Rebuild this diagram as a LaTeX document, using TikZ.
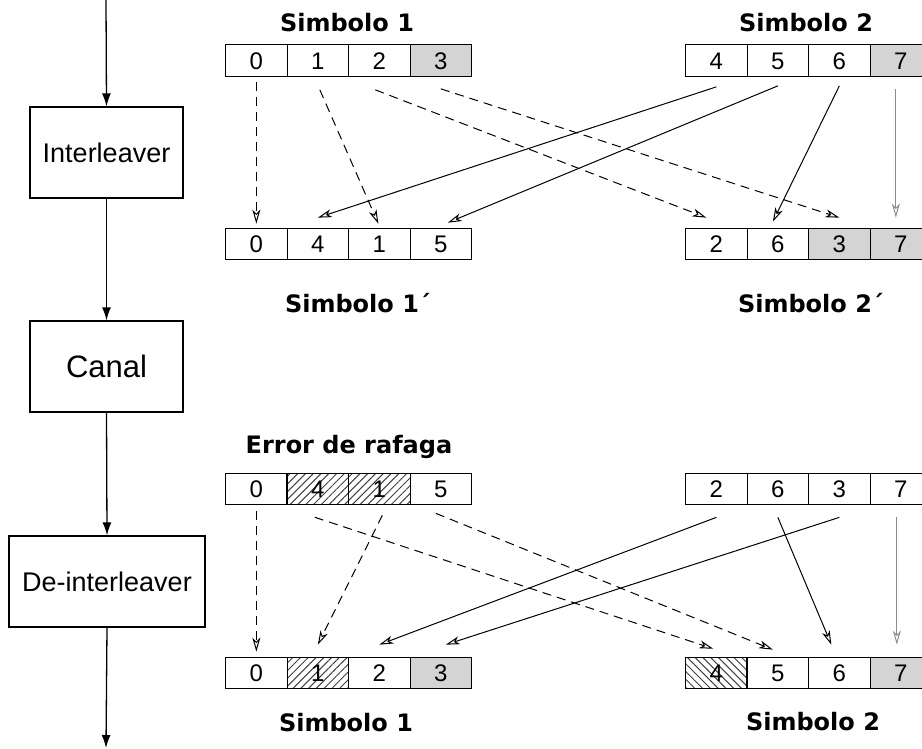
\documentclass[tikz,border=0pt]{standalone}
\usepackage{fontspec}
\setmainfont{Liberation Sans}
\newfontfamily\titlefont{DejaVu Sans}
\usetikzlibrary{arrows.meta,patterns.meta,calc}

\tikzset{
  blockbox/.style={draw, line width=1.3pt, inner sep=0pt, font=\fontsize{27}{30}\selectfont},
  flow/.style={line width=1.3pt, -{Latex[length=13pt,width=9pt]}},
  cell/.style={draw, line width=1.2pt, minimum width=61.5pt, minimum height=31.5pt,
               inner sep=0pt, text height=17pt, text depth=0pt, anchor=west,
               font=\fontsize{24}{24}\selectfont},
  blank/.style={},
  shaded/.style={fill=black!17},
  hatchne/.style={pattern={Lines[angle=45,distance=5.5pt,line width=1pt]}, pattern color=black!75},
  hatchnw/.style={pattern={Lines[angle=-45,distance=5.5pt,line width=1pt]}, pattern color=black!75},
  title/.style={font=\titlefont\bfseries\fontsize{24}{27}\selectfont, inner sep=0pt},
  tip/.style={-{Stealth[open,length=14pt,width=8pt,inset=4pt]}},
  moved/.style={tip, line width=1pt},
  movedd/.style={tip, line width=1pt, dash pattern=on 9pt off 6pt},
  movedg/.style={tip, line width=1pt, draw=black!45},
}

\begin{document}
\begin{tikzpicture}[x=1pt,y=-1pt]
\useasboundingbox (0,0) rectangle (922,748);

% processing chain on the left
\coordinate (in) at (106,0);
\coordinate (out) at (106,748);
\node[blockbox, minimum width=153pt, minimum height=91pt] (il) at (106.5,152.5) {Interleaver};
\node[blockbox, minimum width=153pt, minimum height=91pt, font=\fontsize{31}{34}\selectfont] (ch) at (106.5,366.5) {Canal};
\node[blockbox, minimum width=196pt, minimum height=91pt] (dil) at (107,581.5) {De-interleaver};
\draw[flow] (in) -- (il.north);
\draw[flow] (il.south) -- (ch.north);
\draw[flow] (ch.south) -- (dil.north);
\draw[flow] (dil.south) -- (out);

% symbol rows
\foreach \v/\s [count=\i] in {0/blank,1/blank,2/blank,3/shaded}
  \node[cell,\s] (a\i) at ({225+61.5*(\i-1)},60.5) {\v};
\foreach \v/\s [count=\i] in {4/blank,5/blank,6/blank,7/shaded}
  \node[cell,\s] (b\i) at ({685+61.5*(\i-1)},60.5) {\v};
\foreach \v/\s [count=\i] in {0/blank,4/blank,1/blank,5/blank}
  \node[cell,\s] (c\i) at ({225+61.5*(\i-1)},244) {\v};
\foreach \v/\s [count=\i] in {2/blank,6/blank,3/shaded,7/shaded}
  \node[cell,\s] (d\i) at ({685+61.5*(\i-1)},244) {\v};
\foreach \v/\s [count=\i] in {0/blank,4/hatchne,1/hatchne,5/blank}
  \node[cell,\s] (e\i) at ({225+61.5*(\i-1)},489) {\v};
\foreach \v/\s [count=\i] in {2/blank,6/blank,3/blank,7/blank}
  \node[cell,\s] (f\i) at ({685+61.5*(\i-1)},489) {\v};
\foreach \v/\s [count=\i] in {0/blank,1/hatchne,2/blank,3/shaded}
  \node[cell,\s] (g\i) at ({225+61.5*(\i-1)},673) {\v};
\foreach \v/\s [count=\i] in {4/hatchnw,5/blank,6/blank,7/shaded}
  \node[cell,\s] (h\i) at ({685+61.5*(\i-1)},673) {\v};

% titles
\node[title] (t1) at (347,23) {Simbolo 1};
\node[title] (t2) at (806,23) {Simbolo 2};
\node[title] (t3) at (358,303) {Simbolo 1´};
\node[title] (t4) at (811,303) {Simbolo 2´};
\node[title] (t5) at (349,447) {Error de rafaga};
\node[title] (t6) at (346,723) {Simbolo 1};
\node[title] (t7) at (813,722) {Simbolo 2};

% interleaving
\draw[movedd] ($(a1.south)+(0,5)$) -- ($(c1.north)+(0,-4)$);
\draw[movedd] ($(a2.south)+(2,13)$) -- ($(c3.north)+(-1,-4)$);
\draw[movedd] ($(a3.south)+(-4,13)$) -- ($(d1.north)+(-10,-10)$);
\draw[movedd] ($(a4.south)+(0,12)$) -- ($(d3.north)+(0,-10)$);
\draw[moved] ($(b1.south)+(0,10)$) -- ($(c2.north)+(0,-10)$);
\draw[moved] ($(b2.south)+(0,9)$) -- ($(c4.north)+(7,-5)$);
\draw[moved] ($(b3.south)+(0,9)$) -- ($(d2.north)+(-5,-6)$);
\draw[movedg] ($(b4.south)+(-5,12)$) -- ($(d4.north)+(-5,-10)$);

% de-interleaving
\draw[movedd] ($(e1.south)+(0,6)$) -- ($(g1.north)+(0,-5)$);
\draw[movedd] ($(e2.south)+(-3,12)$) -- ($(h1.north)+(-3,-8)$);
\draw[movedd] ($(e3.south)+(3,10)$) -- ($(g2.north)+(0,-12)$);
\draw[movedd] ($(e4.south)+(-5,8)$) -- ($(h2.north)+(-5,-7)$);
\draw[moved] ($(f1.south)+(0,12)$) -- ($(g3.north)+(0,-12)$);
\draw[moved] ($(f2.south)+(0,12)$) -- ($(h3.north)+(-8,-12)$);
\draw[moved] ($(f3.south)+(0,12)$) -- ($(g4.north)+(5,-12)$);
\draw[movedg] ($(f4.south)+(-4,12)$) -- ($(h4.north)+(-4,-12)$);
\end{tikzpicture}
\end{document}
